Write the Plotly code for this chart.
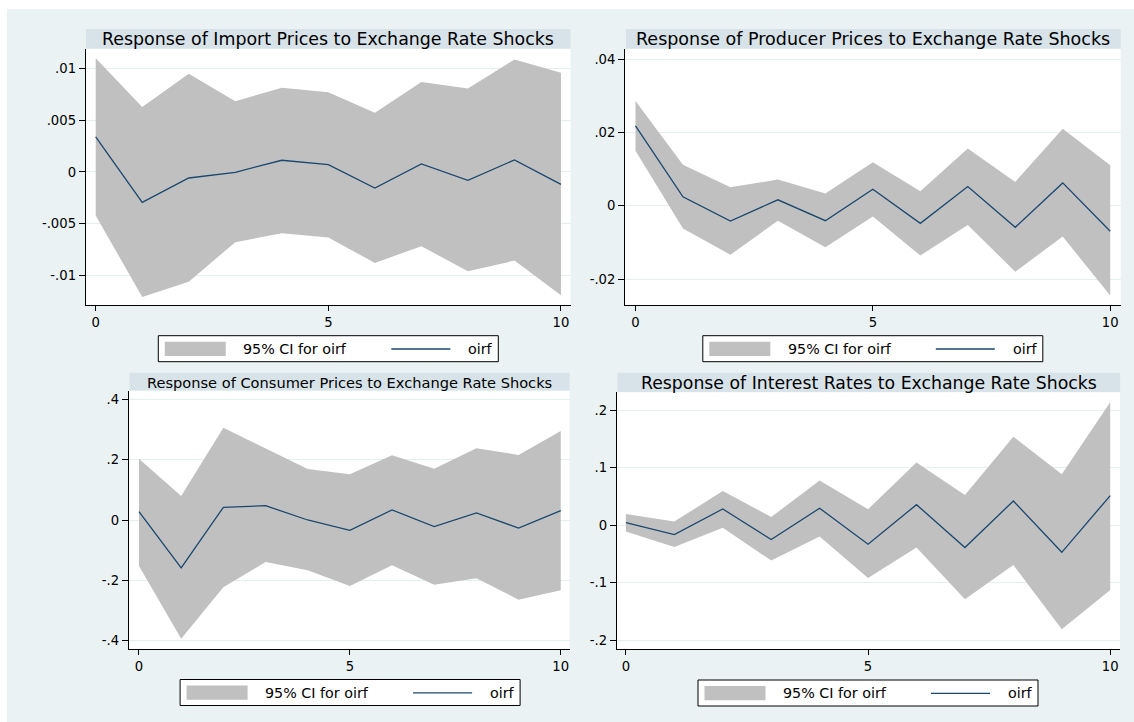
import plotly.graph_objects as go

W, H = 1134, 722

# ---------------- data ----------------
steps = list(range(11))

import_oirf = [0.00339, -0.00294, -0.00058, -0.00003, 0.00113, 0.00071, -0.00155, 0.00077, -0.00081, 0.00116, -0.00119]
import_upper = [0.01097, 0.00626, 0.00948, 0.00681, 0.00813, 0.00768, 0.00571, 0.00868, 0.00806, 0.01084, 0.00958]
import_lower = [-0.00419, -0.01206, -0.01058, -0.00677, -0.00590, -0.00632, -0.00877, -0.00716, -0.00958, -0.00855, -0.01190]

producer_oirf = [0.02181, 0.00244, -0.00416, 0.00163, -0.00407, 0.00452, -0.00480, 0.00525, -0.00588, 0.00624, -0.00697]
producer_upper = [0.02860, 0.01122, 0.00507, 0.00715, 0.00335, 0.01186, 0.00398, 0.01566, 0.00652, 0.02100, 0.01104]
producer_lower = [0.01502, -0.00624, -0.01339, -0.00407, -0.01131, -0.00290, -0.01357, -0.00525, -0.01801, -0.00842, -0.02452]

consumer_oirf = [0.0276, -0.1590, 0.0420, 0.0475, 0.0000, -0.0343, 0.0331, -0.0221, 0.0232, -0.0265, 0.0309]
consumer_upper = [0.2033, 0.0796, 0.3060, 0.2387, 0.1690, 0.1514, 0.2144, 0.1702, 0.2376, 0.2155, 0.2950]
consumer_lower = [-0.1525, -0.3934, -0.2232, -0.1392, -0.1669, -0.2188, -0.1503, -0.2144, -0.1934, -0.2641, -0.2331]

interest_oirf = [0.0046, -0.0162, 0.0284, -0.0249, 0.0296, -0.0330, 0.0359, -0.0388, 0.0423, -0.0470, 0.0516]
interest_upper = [0.0197, 0.0064, 0.0597, 0.0145, 0.0777, 0.0278, 0.1090, 0.0528, 0.1542, 0.0887, 0.2139]
interest_lower = [-0.0110, -0.0377, -0.0041, -0.0614, -0.0197, -0.0916, -0.0388, -0.1287, -0.0690, -0.1809, -0.1125]

x_tickvals = [0, 5, 10]
x_ticktext = ["0", "5", "10"]

import_tickvals = [-0.01, -0.005, 0, 0.005, 0.01]
import_ticktext = ["-.01", "-.005", "0", ".005", ".01"]
producer_tickvals = [-0.02, 0, 0.02, 0.04]
producer_ticktext = ["-.02", "0", ".02", ".04"]
consumer_tickvals = [-0.4, -0.2, 0, 0.2, 0.4]
consumer_ticktext = ["-.4", "-.2", "0", ".2", ".4"]
interest_tickvals = [-0.2, -0.1, 0, 0.1, 0.2]
interest_ticktext = ["-.2", "-.1", "0", ".1", ".2"]

titles = [
    "Response of Import Prices to Exchange Rate Shocks",
    "Response of Producer Prices to Exchange Rate Shocks",
    "Response of Consumer Prices to Exchange Rate Shocks",
    "Response of Interest Rates to Exchange Rate Shocks",
]
legend_labels = ["95% CI for oirf", "oirf"]

# ---------------- style ----------------
FONT = "DejaVu Sans"
BG = "#EAF2F3"
TITLEBAR = "#D8E3E9"
CI_COLOR = "#C0C0C0"
LINE_COLOR = "#1A476F"
GRID = "#E6EEF0"


def px(x):
    return x / W


def py(y):
    return 1 - y / H


panels = [
    dict(data=(import_oirf, import_upper, import_lower), yt=(import_tickvals, import_ticktext),
         box=(85.7, 49.0, 570.5, 305.0), xr=[-0.215, 10.205], yr=[-0.01283, 0.01186],
         tbar=(86.0, 29.0, 570.5, 48.6), tsize=17.4, leg=(158.3, 335.7)),
    dict(data=(producer_oirf, producer_upper, producer_lower), yt=(producer_tickvals, producer_ticktext),
         box=(625.0, 49.0, 1120.7, 305.0), xr=[-0.221, 10.221], yr=[-0.0271, 0.04281],
         tbar=(626.0, 29.0, 1120.7, 48.6), tsize=17.5, leg=(702.8, 335.7)),
    dict(data=(consumer_oirf, consumer_upper, consumer_lower), yt=(consumer_tickvals, consumer_ticktext),
         box=(128.7, 390.7, 569.6, 649.3), xr=[-0.244, 10.21], yr=[-0.4285, 0.4285],
         tbar=(129.5, 372.7, 569.6, 390.5), tsize=14.6, leg=(180.1, 679.5)),
    dict(data=(interest_oirf, interest_upper, interest_lower), yt=(interest_tickvals, interest_ticktext),
         box=(616.7, 392.3, 1120.1, 649.3), xr=[-0.19, 10.204], yr=[-0.2157, 0.2313],
         tbar=(617.5, 372.7, 1120.1, 392.1), tsize=17.3, leg=(698.0, 680.0)),
]

fig = go.Figure()
shapes = []
annotations = []
layout = {}

# white outer margins (top and left)
shapes.append(dict(type="rect", xref="paper", yref="paper", x0=0, x1=1, y0=py(9), y1=1,
                   fillcolor="white", line=dict(width=0), layer="below"))
shapes.append(dict(type="rect", xref="paper", yref="paper", x0=0, x1=px(7), y0=0, y1=1,
                   fillcolor="white", line=dict(width=0), layer="below"))

for i, p in enumerate(panels):
    n = "" if i == 0 else str(i + 1)
    xa, ya = "x" + n, "y" + n
    oirf, upper, lower = p["data"]

    fig.add_trace(go.Scatter(
        x=steps + steps[::-1], y=upper + lower[::-1], xaxis=xa, yaxis=ya,
        fill="toself", fillcolor=CI_COLOR, line=dict(width=0), mode="lines",
        hoverinfo="skip", showlegend=False))
    fig.add_trace(go.Scatter(
        x=steps, y=oirf, xaxis=xa, yaxis=ya, mode="lines",
        line=dict(color=LINE_COLOR, width=1.3), showlegend=False))

    x0, y0, x1, y1 = p["box"]
    tick_font = dict(family=FONT, size=13.2, color="black")
    layout["xaxis" + n] = dict(
        domain=[px(x0), px(x1)], range=p["xr"], anchor=ya,
        tickvals=x_tickvals, ticktext=x_ticktext, ticks="outside", ticklen=5,
        tickwidth=1, tickcolor="black", showline=True, linecolor="black", linewidth=1,
        showgrid=False, zeroline=False, tickfont=tick_font, fixedrange=True)
    layout["yaxis" + n] = dict(
        domain=[py(y1), py(y0)], range=p["yr"], anchor=xa,
        tickvals=p["yt"][0], ticktext=p["yt"][1], ticks="outside", ticklen=6,
        tickwidth=1, tickcolor="black", showline=True, linecolor="black", linewidth=1,
        showgrid=True, gridcolor=GRID, gridwidth=1, zeroline=False,
        tickfont=tick_font, fixedrange=True)

    # title bar
    tx0, ty0, tx1, ty1 = p["tbar"]
    shapes.append(dict(type="rect", xref="paper", yref="paper",
                       x0=px(tx0), x1=px(tx1), y0=py(ty1), y1=py(ty0),
                       fillcolor=TITLEBAR, line=dict(width=0), layer="below"))
    annotations.append(dict(text=titles[i], xref="paper", yref="paper",
                            x=px((tx0 + tx1) / 2), y=py((ty0 + ty1) / 2 + 0.5),
                            xanchor="center", yanchor="middle", showarrow=False,
                            borderpad=0,
                            font=dict(family=FONT, size=p["tsize"], color="black")))

    # legend
    bx, by = p["leg"]
    shapes.append(dict(type="rect", xref="paper", yref="paper",
                       x0=px(bx), x1=px(bx + 340), y0=py(by + 26), y1=py(by),
                       fillcolor="white", line=dict(color="black", width=1)))
    shapes.append(dict(type="rect", xref="paper", yref="paper",
                       x0=px(bx + 6.5), x1=px(bx + 67.5), y0=py(by + 20.3), y1=py(by + 6),
                       fillcolor=CI_COLOR, line=dict(width=0)))
    shapes.append(dict(type="line", xref="paper", yref="paper",
                       x0=px(bx + 233), x1=px(bx + 292), y0=py(by + 13.3), y1=py(by + 13.3),
                       line=dict(color=LINE_COLOR, width=1.3)))
    annotations.append(dict(text=legend_labels[0], xref="paper", yref="paper",
                            x=px(bx + 84), y=py(by + 13.3), xanchor="left", yanchor="middle",
                            showarrow=False, borderpad=0,
                            font=dict(family=FONT, size=14.3, color="black")))
    annotations.append(dict(text=legend_labels[1], xref="paper", yref="paper",
                            x=px(bx + 309), y=py(by + 13.3), xanchor="left", yanchor="middle",
                            showarrow=False, borderpad=0,
                            font=dict(family=FONT, size=14.3, color="black")))

fig.update_layout(
    width=W, height=H, autosize=False,
    margin=dict(l=0, r=0, t=0, b=0, pad=0),
    paper_bgcolor=BG, plot_bgcolor="white",
    shapes=shapes, annotations=annotations,
    showlegend=False,
    font=dict(family=FONT, color="black"),
    **layout,
)

fig.write_html("out.html", config={"displayModeBar": False},
               post_script="document.body.style.margin='0';document.body.style.overflow='hidden';")
